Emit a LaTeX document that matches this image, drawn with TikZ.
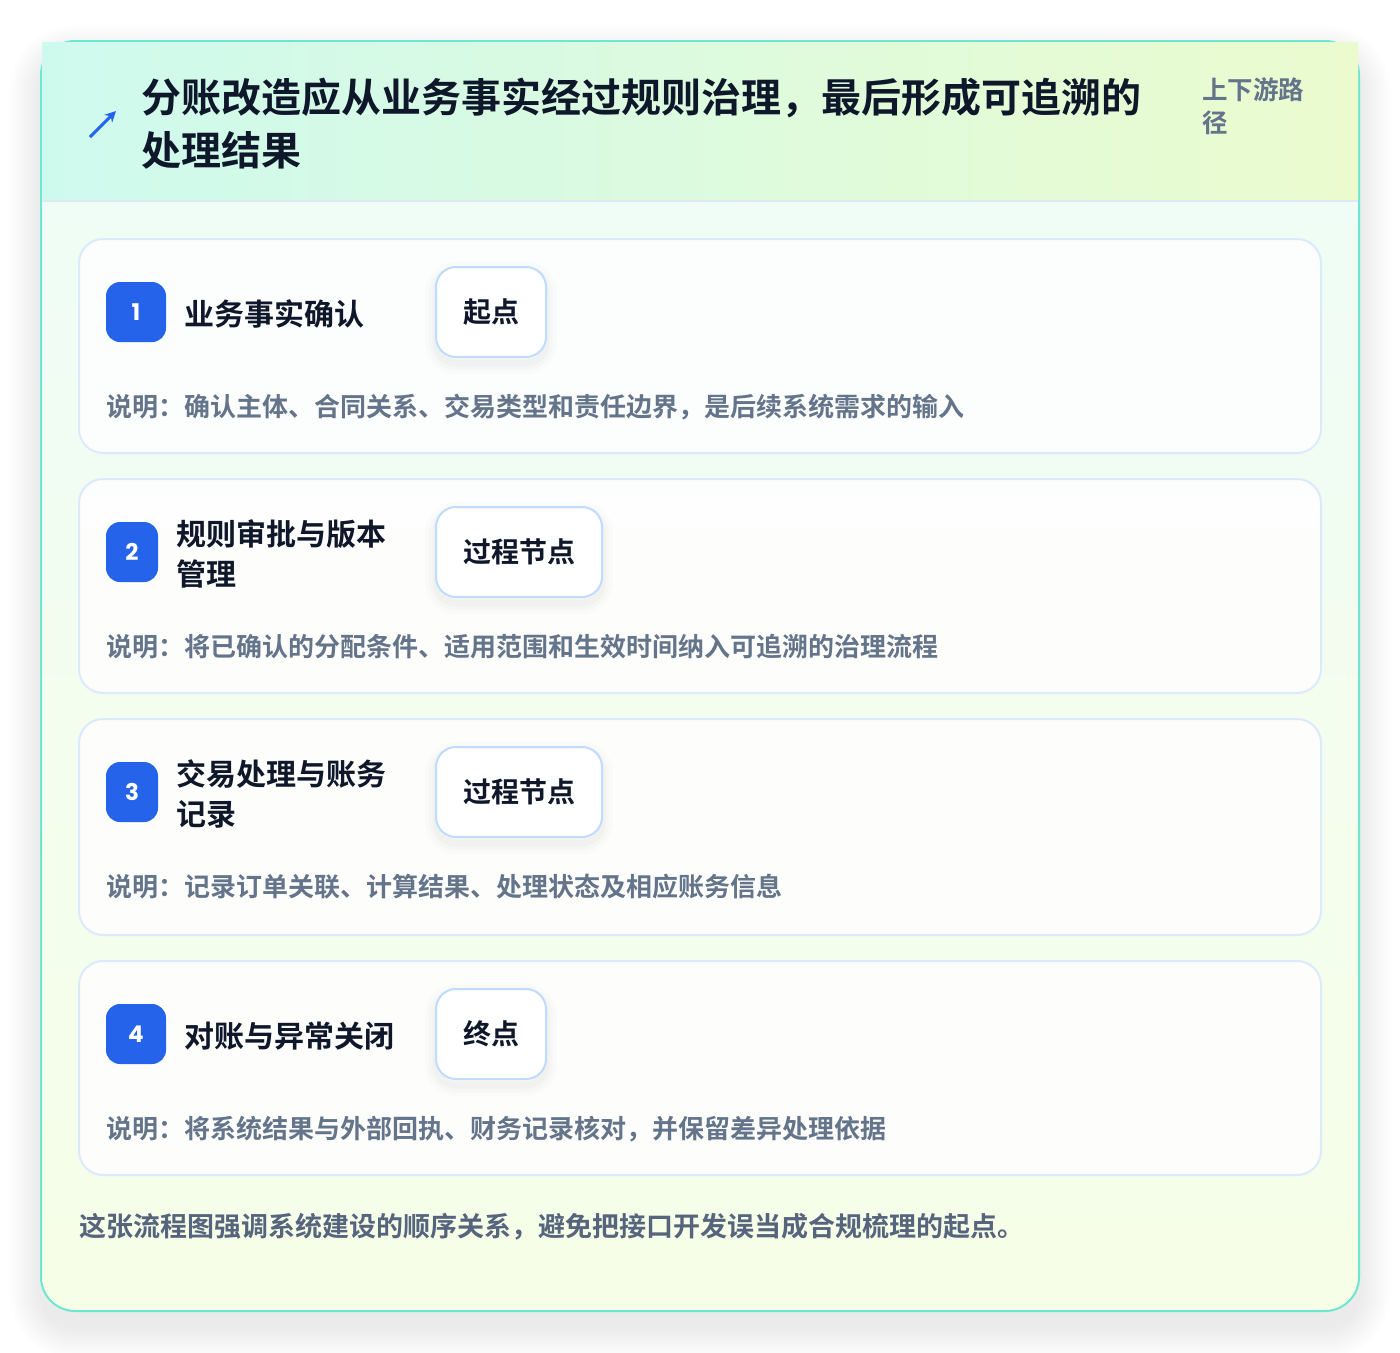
\documentclass[tikz,border=0pt]{standalone}
\usepackage{fontspec}
\setmainfont{Noto Sans CJK SC}[BoldFont={Noto Sans CJK SC Bold}]
\newfontfamily\digitfont{Poppins}[BoldFont={Poppins Bold}]
\usetikzlibrary{arrows.meta}
\definecolor{ink}{HTML}{0F172A}
\definecolor{muted}{HTML}{64748B}
\definecolor{footc}{HTML}{56657D}
\definecolor{badgeblue}{HTML}{2563EB}
\definecolor{cardedge}{HTML}{DBEAFE}
\definecolor{tagedge}{HTML}{BFDBFE}
\definecolor{outeredge}{HTML}{6EE7D2}
\definecolor{hdrL}{RGB}{206,250,238}
\definecolor{hdrR}{RGB}{235,251,206}
\definecolor{bodyT}{RGB}{239,253,248}
\definecolor{bodyB}{RGB}{246,254,231}
\definecolor{hdrline}{RGB}{220,234,246}
\begin{document}
\begin{tikzpicture}[x=1pt,y=-1pt,
  softshadow/.style={
    preaction={draw=black,draw opacity=0.012,line width=22pt,transform canvas={yshift=-6pt}},
    preaction={draw=black,draw opacity=0.015,line width=14pt,transform canvas={yshift=-6pt}},
    preaction={draw=black,draw opacity=0.018,line width=7pt,transform canvas={yshift=-6pt}}},
  stepcard/.style={draw=cardedge, line width=2pt, fill=white, fill opacity=0.85, rounded corners=24pt, minimum width=1242pt, inner sep=0pt},
  badge/.style={fill=badgeblue, rounded corners=14pt, minimum height=60pt, inner sep=0pt, text=white, font=\digitfont\bfseries\fontsize{23}{23}\selectfont},
  steptitle/.style={anchor=west, align=left, inner sep=0pt, text=ink, font=\bfseries\fontsize{30}{40}\selectfont},
  tagbox/.style={anchor=west, draw=tagedge, line width=2pt, fill=white, rounded corners=20pt, minimum height=90pt, inner xsep=27pt, inner ysep=0pt, text=ink, font=\bfseries\fontsize{28}{28}\selectfont, softshadow},
  desc/.style={anchor=west, inner sep=0pt, text=muted, font=\bfseries\fontsize{26}{26}\selectfont},
]
\useasboundingbox (0,0) rectangle (1400,1352);
\fill[white] (0,0) rectangle (1400,1352);
% outer shadow
\foreach \i [evaluate=\i as \d using 1.6*\i, evaluate=\i as \r using 34+1.6*\i] in {1,...,20} {
  \fill[black, opacity=0.0045, rounded corners=\r pt] ({41-\d},{41-\d+16}) rectangle ({1359+\d},{1311+\d+16});
}
% card body
\shade[top color=bodyT, bottom color=bodyB, rounded corners=34pt] (41,41) rectangle (1359,1311);
\draw[outeredge, line width=2pt, rounded corners=34pt] (41,41) rectangle (1359,1311);
% header
\shade[left color=hdrL, right color=hdrR] (42,42) rectangle (1358,201);
\draw[hdrline, line width=2pt] (42,201) -- (1358,201);
\coordinate (arrowtail) at (90,137);
\coordinate (arrowtip) at (116,111);
\draw[badgeblue, line width=3pt, -{Stealth[length=11pt,width=11pt]}] (arrowtail) -- (arrowtip);
\node[anchor=west, align=left, inner sep=0pt, text=ink, font=\bfseries\fontsize{40}{53}\selectfont] (htitle) at (141,123.5) {分账改造应从业务事实经过规则治理，最后形成可追溯的\\处理结果};
\node[anchor=west, align=left, inner sep=0pt, text=muted, font=\bfseries\fontsize{25.5}{33}\selectfont] (hside) at (1202,106.5) {上下游路\\径};
% step cards
\node[stepcard, minimum height=214pt] (card1) at (700,346) {};
\node[stepcard, minimum height=214pt] (card2) at (700,586) {};
\node[stepcard, minimum height=216pt] (card3) at (700,827) {};
\node[stepcard, minimum height=214pt] (card4) at (700,1068) {};
% step 1
\node[badge, minimum width=60pt] (badge1) at (136,312) {1};
\node[steptitle] (title1) at (184,314) {业务事实确认};
\node[tagbox] (tag1) at (435,312) {起点};
\node[desc] (desc1) at (106,407) {说明：确认主体、合同关系、交易类型和责任边界，是后续系统需求的输入};
% step 2
\node[badge, minimum width=52pt] (badge2) at (132,552) {2};
\node[steptitle] (title2) at (176,554) {规则审批与版本\\管理};
\node[tagbox] (tag2) at (435,552) {过程节点};
\node[desc] (desc2) at (106,647) {说明：将已确认的分配条件、适用范围和生效时间纳入可追溯的治理流程};
% step 3
\node[badge, minimum width=52pt] (badge3) at (132,792) {3};
\node[steptitle] (title3) at (176,794) {交易处理与账务\\记录};
\node[tagbox] (tag3) at (435,792) {过程节点};
\node[desc] (desc3) at (106,887) {说明：记录订单关联、计算结果、处理状态及相应账务信息};
% step 4
\node[badge, minimum width=60pt] (badge4) at (136,1034) {4};
\node[steptitle] (title4) at (184,1036) {对账与异常关闭};
\node[tagbox] (tag4) at (435,1034) {终点};
\node[desc] (desc4) at (106,1129) {说明：将系统结果与外部回执、财务记录核对，并保留差异处理依据};
% footer
\node[anchor=west, inner sep=0pt, text=footc, font=\bfseries\fontsize{27}{27}\selectfont] (footnote) at (79,1227) {这张流程图强调系统建设的顺序关系，避免把接口开发误当成合规梳理的起点。};
\end{tikzpicture}
\end{document}
